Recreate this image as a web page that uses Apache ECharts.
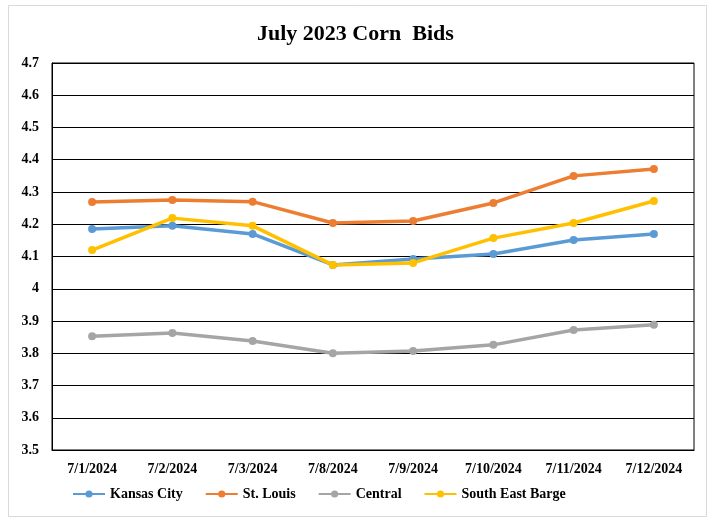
<!DOCTYPE html>
<html>
<head>
<meta charset="utf-8">
<script src="https://cdn.jsdelivr.net/npm/echarts@6/dist/echarts.min.js"></script>
<style>
    html, body { margin: 0; padding: 0; background: #fff; }
    #chart { width: 714px; height: 521px; }
</style>
</head>
<body>
<div id="chart"></div>
<script>
const dates = ['7/1/2024', '7/2/2024', '7/3/2024', '7/8/2024', '7/9/2024', '7/10/2024', '7/11/2024', '7/12/2024'];
const kansasCity = [4.185, 4.195, 4.17, 4.074, 4.092, 4.108, 4.151, 4.17];
const stLouis = [4.269, 4.275, 4.27, 4.204, 4.21, 4.266, 4.35, 4.371];
const central = [3.853, 3.863, 3.838, 3.80, 3.807, 3.826, 3.872, 3.888];
const southEastBarge = [4.12, 4.219, 4.195, 4.074, 4.08, 4.157, 4.204, 4.272];

const font = '"Liberation Serif", "Times New Roman", serif';

function line(name, data, color) {
    return {
        name: name,
        type: 'line',
        data: data,
        symbol: 'circle',
        symbolSize: 8,
        lineStyle: { width: 3.5, color: color },
        itemStyle: { color: color },
        emphasis: { disabled: true }
    };
}

const chart = echarts.init(document.getElementById('chart'));
chart.setOption({
    animation: false,
    title: {
        text: 'July 2023 Corn  Bids',
        left: 252,
        top: 18,
        textStyle: { fontFamily: font, fontSize: 22, fontWeight: 'bold', color: '#000' }
    },
    graphic: [{
        type: 'rect',
        shape: { x: 8.5, y: 5.5, width: 698, height: 511 },
        style: { fill: 'none', stroke: '#d9d9d9', lineWidth: 1 },
        silent: true
    }],
    grid: {
        left: 52, right: 20, top: 63, bottom: 71, containLabel: false,
        show: true, borderColor: '#000', borderWidth: 1
    },
    legend: {
        top: 482,
        left: 67,
        itemWidth: 32,
        itemHeight: 9,
        itemGap: 22,
        textStyle: { fontFamily: font, fontSize: 14, fontWeight: 'bold', color: '#000' },
        data: ['Kansas City', 'St. Louis', 'Central', 'South East Barge']
    },
    xAxis: {
        type: 'category',
        data: dates,
        boundaryGap: true,
        axisLine: { show: true, lineStyle: { color: '#000', width: 1 } },
        axisTick: { show: false },
        axisLabel: { margin: 12, fontFamily: font, fontSize: 14, fontWeight: 'bold', color: '#000' }
    },
    yAxis: {
        type: 'value',
        min: 3.5,
        max: 4.7,
        interval: 0.1,
        axisLine: { show: true, lineStyle: { color: '#000', width: 1 } },
        axisTick: { show: false },
        splitLine: { show: true, lineStyle: { color: '#000', width: 1 } },
        axisLabel: {
            margin: 13,
            fontFamily: font, fontSize: 14, fontWeight: 'bold', color: '#000',
            formatter: v => String(Math.round(v * 10) / 10)
        }
    },
    series: [
        line('Kansas City', kansasCity, '#5b9bd5'),
        line('St. Louis', stLouis, '#ed7d31'),
        line('Central', central, '#a5a5a5'),
        line('South East Barge', southEastBarge, '#ffc000')
    ]
});
</script>
</body>
</html>
